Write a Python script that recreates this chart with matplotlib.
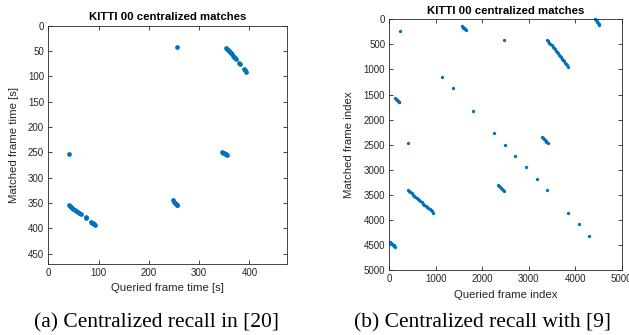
import matplotlib
matplotlib.use("Agg")
import matplotlib.pyplot as plt

# ---------------- data ----------------
# (a) centralized recall, times in seconds
a_query = [255, 42,
           353, 355, 357, 359, 361, 363, 365, 367, 369, 371, 373, 380, 381, 390, 392, 394,
           41, 43, 45, 47, 50, 53, 56, 59, 62, 65, 74, 75, 84, 86, 88, 90, 92,
           346, 348, 350, 352, 354, 356,
           247, 249, 251, 253, 255, 256]
a_match = [42.5, 254,
           43, 45, 47, 49, 52, 54, 56, 59, 61, 63, 65, 74, 75, 85, 88, 91,
           353, 355, 357, 359, 361, 363, 365, 367, 369, 371, 378, 379, 387, 389, 390, 392, 394,
           249, 251, 252, 253, 254, 255,
           345, 347, 349, 351, 353, 354]

# (b) centralized recall, frame indices
b_single_q = [237, 2461, 1140, 1364, 1807, 2259, 2489, 409, 2711, 2941, 3170, 3392, 3844, 4074, 4295]
b_single_m = [233, 419, 1144, 1370, 1822, 2270, 2500, 2460, 2726, 2952, 3185, 3410, 3862, 4088, 4315]

s2_q = [3400, 3420, 3445, 3465, 3490, 3510, 3535, 3555, 3580, 3600, 3625, 3645, 3670, 3690, 3715, 3735, 3760, 3780, 3805, 3825, 3850]
s2_m = [410, 435, 465, 490, 520, 545, 570, 600, 625, 650, 680, 705, 735, 760, 790, 815, 840, 870, 895, 920, 950]
s5_q = [400, 425, 450, 480, 505, 535, 560, 590, 615, 645, 670, 700, 725, 755, 780, 810, 835, 865, 890, 920, 945]
s5_m = [3405, 3428, 3450, 3473, 3495, 3518, 3540, 3563, 3585, 3608, 3630, 3653, 3675, 3698, 3720, 3743, 3765, 3788, 3810, 3833, 3855]
s3_q = [4430, 4445, 4460, 4475, 4490, 4505, 4515]
s3_m = [0, 20, 40, 60, 80, 100, 115]
s6_q = [10, 30, 50, 70, 90, 110, 125]
s6_m = [4450, 4465, 4480, 4495, 4510, 4525, 4535]
s1_q = [1565, 1580, 1595, 1610, 1625, 1640]
s1_m = [135, 150, 165, 180, 195, 210]
s1b_q = [125, 140, 155, 170, 185, 200, 210]
s1b_m = [1575, 1588, 1601, 1614, 1627, 1640, 1652]
s4_q = [3280, 3300, 3320, 3340, 3360, 3380, 3405]
s4_m = [2355, 2372, 2390, 2407, 2425, 2442, 2460]
s7_q = [2345, 2365, 2385, 2405, 2425, 2445, 2460]
s7_m = [3305, 3325, 3345, 3365, 3385, 3405, 3422]

a_xticks = [0, 100, 200, 300, 400]
a_yticks = [0, 50, 100, 150, 200, 250, 300, 350, 400, 450]
b_xticks = [0, 1000, 2000, 3000, 4000, 5000]
b_yticks = [0, 500, 1000, 1500, 2000, 2500, 3000, 3500, 4000, 4500, 5000]

title = "KITTI 00 centralized matches"
cap_a = "(a) Centralized recall in [20]"
cap_b = "(b) Centralized recall with [9]"

# ---------------- style ----------------
BLUE = "#0072BD"
AXC = "#262626"
plt.rcParams['font.family'] = ['Liberation Sans', 'DejaVu Sans']

fig = plt.figure(figsize=(6.29, 3.35), dpi=100)
ax1 = fig.add_axes([0.0768, 0.211, 0.379, 0.7122])
ax2 = fig.add_axes([0.619, 0.194, 0.3695, 0.7484])

LBL = 8.2
TTL = 8.2


def style(ax, xticks, yticks, xlim, ylim):
    ax.set_xlim(*xlim)
    ax.set_ylim(*ylim)
    ax.set_xticks(xticks)
    ax.set_yticks(yticks)
    ax.tick_params(direction='in', length=3, width=0.6, colors=AXC,
                   labelsize=7, top=True, right=True, pad=3)
    for s in ax.spines.values():
        s.set_color(AXC)
        s.set_linewidth(0.6)


ax1.plot(a_query, a_match, 'o', color=BLUE, ms=3.4, mew=0, clip_on=False)
style(ax1, a_xticks, a_yticks, (0, 474), (471, 0))
ax1.set_xlabel("Queried frame time [s]", fontsize=LBL, color=AXC)
ax1.set_ylabel("Matched frame time [s]", fontsize=LBL, color=AXC)
ax1.xaxis.set_label_coords(0.5, -0.099)
ax1.xaxis.label.set_va('center')
ax1.yaxis.set_label_coords(-0.144, 0.5)
ax1.yaxis.label.set_va('center')
ax1.text(0.5, 1.036, title, transform=ax1.transAxes, ha='center', va='center',
         fontsize=TTL, fontweight='bold', color='black')

ms_b = 2.4
for q, m in [(b_single_q, b_single_m), (s2_q, s2_m), (s5_q, s5_m), (s3_q, s3_m),
             (s6_q, s6_m), (s1_q, s1_m), (s1b_q, s1b_m), (s4_q, s4_m), (s7_q, s7_m)]:
    ax2.plot(q, m, 'o', color=BLUE, ms=ms_b, mew=0, clip_on=False)
style(ax2, b_xticks, b_yticks, (0, 5000), (5000, 0))
ax2.set_xlabel("Queried frame index", fontsize=LBL, color=AXC)
ax2.set_ylabel("Matched frame index", fontsize=LBL, color=AXC)
ax2.xaxis.set_label_coords(0.5, -0.10)
ax2.xaxis.label.set_va('center')
ax2.yaxis.set_label_coords(-0.173, 0.5)
ax2.yaxis.label.set_va('center')
ax2.text(0.5, 1.033, title, transform=ax2.transAxes, ha='center', va='center',
         fontsize=TTL, fontweight='bold', color='black')

fig.text(156 / 629, 1 - 323 / 335, cap_a, ha='center', va='center',
         fontsize=15.5, family=['Liberation Serif', 'DejaVu Serif'])
fig.text(482.5 / 629, 1 - 323 / 335, cap_b, ha='center', va='center',
         fontsize=15.5, family=['Liberation Serif', 'DejaVu Serif'])

fig.savefig("out.png", dpi=100)
